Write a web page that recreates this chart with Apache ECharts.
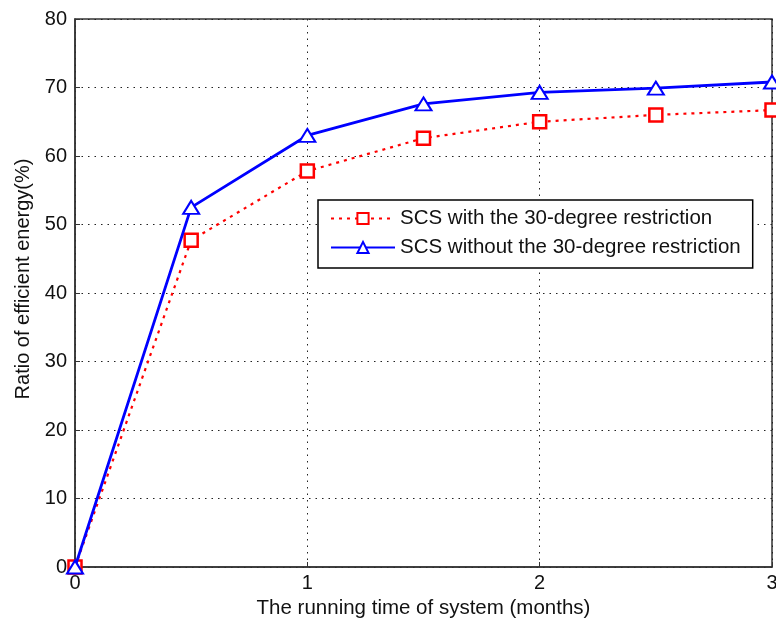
<!DOCTYPE html>
<html><head><meta charset="utf-8">
<script src="https://cdn.jsdelivr.net/npm/echarts@6/dist/echarts.min.js"></script>
<style>html,body{margin:0;padding:0;background:#fff}#c{width:776px;height:626px}</style>
</head><body><div id="c"></div>
<script>
const months = [0, 0.5, 1, 1.5, 2, 2.5, 3];
const withRestriction = [0, 47.7, 57.8, 62.6, 65.0, 66.0, 66.7];
const withoutRestriction = [0, 52.5, 63.0, 67.6, 69.3, 69.9, 70.8];
const seriesNames = ['SCS with the 30-degree restriction', 'SCS without the 30-degree restriction'];
const xName = 'The running time of system (months)';
const yName = 'Ratio of efficient energy(%)';

const font = 'Liberation Sans, Arial, sans-serif';
const chart = echarts.init(document.getElementById('c'));
chart.setOption({
  animation: false,
  backgroundColor: '#fff',
  grid: { left: 75, right: 4, top: 19, bottom: 59, show: true, borderColor: '#333', borderWidth: 1.5, backgroundColor: 'transparent', outerBoundsMode: 'none', containLabel: false },
  legend: {
    orient: 'vertical', left: 318, top: 200,
    padding: [8, 12, 10, 12], itemGap: 8, itemWidth: 64, itemHeight: 14,
    backgroundColor: '#fff', borderColor: '#000', borderWidth: 1.5,
    textStyle: { fontFamily: font, fontSize: 20.5, color: '#111' },
    data: seriesNames
  },
  xAxis: {
    type: 'value', min: 0, max: 3, interval: 1,
    name: xName, nameLocation: 'middle', nameGap: 30,
    nameTextStyle: { fontFamily: font, fontSize: 20.5, color: '#111' },
    axisLine: { show: true, lineStyle: { color: '#333', width: 1.5 } },
    axisTick: { show: true, inside: true, length: 5, lineStyle: { color: '#333' } },
    axisLabel: { fontFamily: font, fontSize: 20, color: '#111', margin: 6 },
    splitLine: { show: true, lineStyle: { color: '#222', type: [1.5, 5], width: 1 } }
  },
  yAxis: {
    type: 'value', min: 0, max: 80, interval: 10,
    name: yName, nameLocation: 'middle', nameGap: 40,
    nameTextStyle: { fontFamily: font, fontSize: 20, color: '#111', padding: [0, 0, 0, 28] },
    axisLine: { show: true, lineStyle: { color: '#333', width: 1.5 } },
    axisTick: { show: true, inside: true, length: 5, lineStyle: { color: '#333' } },
    axisLabel: { fontFamily: font, fontSize: 20, color: '#111', margin: 8 },
    splitLine: { show: true, lineStyle: { color: '#222', type: [1.5, 5], width: 1 } }
  },
  series: [
    {
      name: seriesNames[0], type: 'line',
      data: months.map((m, i) => [m, withRestriction[i]]),
      symbol: 'rect', symbolSize: 13, showSymbol: true,
      lineStyle: { color: '#ff0000', width: 2.2, type: [3, 5] },
      itemStyle: { color: '#fff', borderColor: '#ff0000', borderWidth: 2.5 },
      z: 2
    },
    {
      name: seriesNames[1], type: 'line',
      data: months.map((m, i) => [m, withoutRestriction[i]]),
      symbol: 'triangle', symbolSize: [16, 13], showSymbol: true,
      lineStyle: { color: '#0000ff', width: 2.8 },
      itemStyle: { color: '#fff', borderColor: '#0000ff', borderWidth: 2 },
      z: 3
    }
  ]
});
</script></body></html>
